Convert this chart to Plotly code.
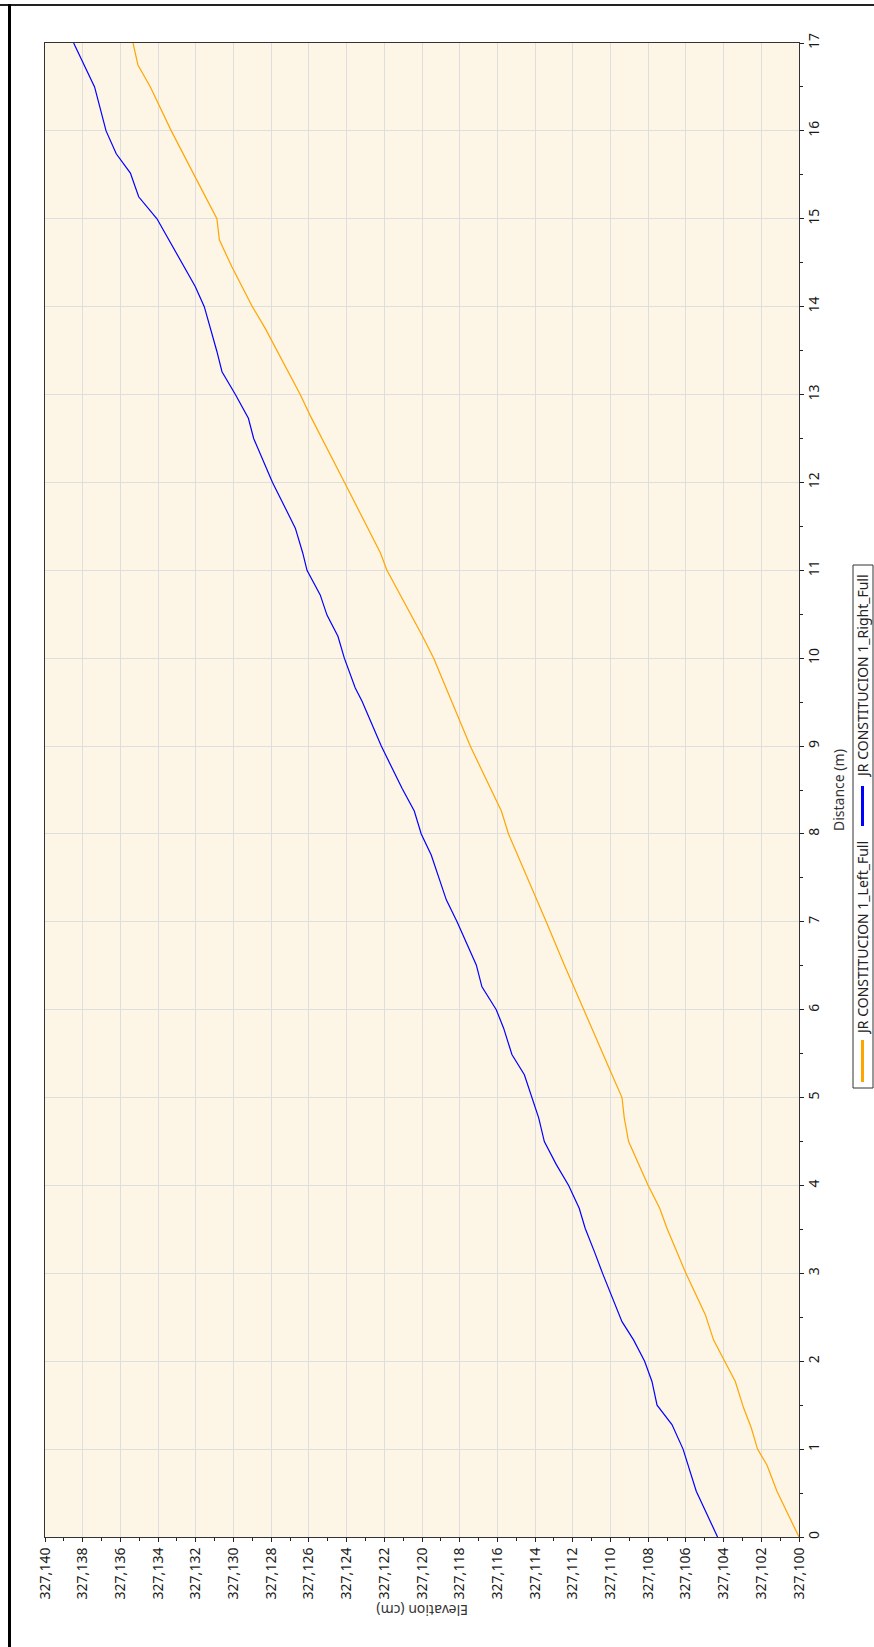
import plotly.graph_objects as go

# ---------------- data ----------------
# Distance along profile (m)
left_distance = [0, 0.52, 0.82, 1.0, 1.24, 1.47, 1.77, 2.0, 2.24, 2.53, 3.0, 3.51, 3.74, 4.0,
                 4.5, 4.77, 5.0, 5.26, 6.0, 6.51, 7.0, 7.34, 8.0, 8.26, 9.0, 10.0, 10.25,
                 11.0, 11.2, 12.0, 12.76, 13.0, 13.75, 14.0, 14.45, 14.76, 15.0, 15.4, 16.0,
                 16.5, 16.75, 17.0]
left_elevation = [327.10000, 327.10117, 327.10170, 327.10220, 327.10253, 327.10294, 327.10338,
                  327.10395, 327.10453, 327.10497, 327.10600, 327.10700, 327.10739, 327.10800,
                  327.10904, 327.10927, 327.10939, 327.10992, 327.11143, 327.11245, 327.11341,
                  327.11408, 327.11541, 327.11579, 327.11744, 327.11938, 327.11997, 327.12186,
                  327.12221, 327.12411, 327.12593, 327.12646, 327.12831, 327.12900, 327.13008,
                  327.13075, 327.13088, 327.13185, 327.13330, 327.13441, 327.13507, 327.13533]

right_distance = [0, 0.29, 0.52, 1.0, 1.28, 1.5, 1.77, 2.0, 2.24, 2.45, 2.68, 3.0, 3.25, 3.51,
                  3.74, 4.0, 4.24, 4.5, 4.77, 5.0, 5.26, 5.49, 5.79, 6.0, 6.26, 6.51, 7.0,
                  7.25, 7.76, 8.0, 8.26, 8.52, 8.82, 9.0, 9.51, 9.66, 10.0, 10.25, 10.49,
                  10.72, 11.0, 11.2, 11.48, 11.71, 12.0, 12.5, 12.73, 13.0, 13.26, 13.49,
                  14.0, 14.23, 14.53, 15.0, 15.25, 15.52, 15.74, 16.0, 16.5, 16.8, 17.0]
right_elevation = [327.10432, 327.10497, 327.10545, 327.10615, 327.10674, 327.10753, 327.10780,
                   327.10819, 327.10877, 327.10939, 327.10983, 327.11042, 327.11086, 327.11134,
                   327.11166, 327.11222, 327.11288, 327.11351, 327.11381, 327.11416, 327.11457,
                   327.11523, 327.11567, 327.11606, 327.11682, 327.11712, 327.11814, 327.11871,
                   327.11951, 327.12004, 327.12041, 327.12106, 327.12177, 327.12216, 327.12318,
                   327.12354, 327.12412, 327.12446, 327.12504, 327.12540, 327.12610, 327.12633,
                   327.12672, 327.12725, 327.12793, 327.12893, 327.12921, 327.12990, 327.13061,
                   327.13088, 327.13155, 327.13203, 327.13282, 327.13406, 327.13503, 327.13547,
                   327.13622, 327.13676, 327.13737, 327.13804, 327.13848]

series_names = ["JR CONSTITUCION 1_Left_Full", "JR CONSTITUCION 1_Right_Full"]
series_colors = ["#FFA500", "#0000FF"]

elev_tick_values = [327.100, 327.102, 327.104, 327.106, 327.108, 327.110, 327.112, 327.114,
                    327.116, 327.118, 327.120, 327.122, 327.124, 327.126, 327.128, 327.130,
                    327.132, 327.134, 327.136, 327.138, 327.140]
elev_tick_labels = ["327,100", "327,102", "327,104", "327,106", "327,108", "327,110", "327,112",
                    "327,114", "327,116", "327,118", "327,120", "327,122", "327,124", "327,126",
                    "327,128", "327,130", "327,132", "327,134", "327,136", "327,138", "327,140"]
dist_tick_values = list(range(0, 18))
dist_tick_labels = [str(v) for v in dist_tick_values]

# ---------------- layout geometry (pixels) ----------------
W, H = 874, 1647
PL, PR, PT, PB = 45, 799, 43, 1537


def px(X):
    return (X - PL) / (PR - PL)


def py(Y):
    return (PB - Y) / (PB - PT)


FONT = "Noto Sans"

fig = go.Figure()
fig.add_trace(go.Scatter(x=left_elevation, y=left_distance, mode="lines",
                         name=series_names[0], line=dict(color=series_colors[0], width=1.2),
                         showlegend=False))
fig.add_trace(go.Scatter(x=right_elevation, y=right_distance, mode="lines",
                         name=series_names[1], line=dict(color=series_colors[1], width=1.2),
                         showlegend=False))

fig.update_layout(
    width=W, height=H,
    margin=dict(l=PL, r=W - PR, t=PT, b=H - PB, autoexpand=False),
    paper_bgcolor="white",
    plot_bgcolor="#FDF5E6",
    font=dict(family=FONT, size=14, color="#222222"),
    showlegend=False,
)

fig.update_xaxes(
    range=[327.140, 327.100],
    tickvals=elev_tick_values, ticktext=elev_tick_labels,
    tickangle=-90,
    ticks="outside", ticklen=4, tickcolor="#222222",
    showline=True, linecolor="#333333", linewidth=1, mirror=True,
    showgrid=True, gridcolor="#DEDEDE", gridwidth=1,
    zeroline=False,
    minor=dict(dtick=0.001, tick0=327.100, ticks="outside", ticklen=3, tickcolor="#222222",
               showgrid=False),
    tickfont=dict(family=FONT, size=14, color="#1a1a1a"),
)
fig.update_yaxes(
    range=[0, 17], side="right",
    tickvals=dist_tick_values, ticktext=dist_tick_labels,
    tickangle=-90,
    ticks="outside", ticklen=4, tickcolor="#222222",
    showline=True, linecolor="#333333", linewidth=1, mirror=True,
    showgrid=True, gridcolor="#DEDEDE", gridwidth=1,
    zeroline=False,
    ticklabelstandoff=-2,
    minor=dict(dtick=0.5, ticks="outside", ticklen=3, tickcolor="#222222", showgrid=False),
    tickfont=dict(family=FONT, size=14, color="#1a1a1a"),
)

annotations = [
    dict(text="Distance (m)", x=px(838), y=py(790), xref="paper", yref="paper",
         showarrow=False, textangle=-90, xanchor="center", yanchor="middle",
         font=dict(family=FONT, size=14, color="#333333")),
    dict(text="Elevation (cm)", x=px(422), y=py(1611), xref="paper", yref="paper",
         showarrow=False, textangle=180, xanchor="center", yanchor="middle",
         font=dict(family=FONT, size=14, color="#333333")),
    dict(text=series_names[0], x=px(862), y=py(938), xref="paper", yref="paper",
         showarrow=False, textangle=-90, xanchor="center", yanchor="middle",
         font=dict(family=FONT, size=14, color="#222222")),
    dict(text=series_names[1], x=px(862), y=py(676), xref="paper", yref="paper",
         showarrow=False, textangle=-90, xanchor="center", yanchor="middle",
         font=dict(family=FONT, size=14, color="#222222")),
]
fig.update_layout(annotations=annotations)

shapes = [
    # outer frame (top and left edges visible in the screenshot)
    dict(type="line", xref="paper", yref="paper", x0=px(0), x1=px(W), y0=py(5), y1=py(5),
         line=dict(color="#222222", width=2)),
    dict(type="line", xref="paper", yref="paper", x0=px(9.5), x1=px(9.5), y0=py(4), y1=py(H),
         line=dict(color="#000000", width=3)),
    # legend box
    dict(type="rect", xref="paper", yref="paper", x0=px(853), x1=px(873), y0=py(1088), y1=py(565),
         line=dict(color="#333333", width=1), fillcolor="rgba(0,0,0,0)"),
    # legend samples
    dict(type="line", xref="paper", yref="paper", x0=px(862.5), x1=px(862.5), y0=py(1082), y1=py(1040),
         line=dict(color=series_colors[0], width=3)),
    dict(type="line", xref="paper", yref="paper", x0=px(862.5), x1=px(862.5), y0=py(826), y1=py(786),
         line=dict(color=series_colors[1], width=3)),
]
fig.update_layout(shapes=shapes)

fig.write_html("out.html",
               config={"displayModeBar": False},
               post_script="document.body.style.margin='0';document.body.style.overflow='hidden';")
